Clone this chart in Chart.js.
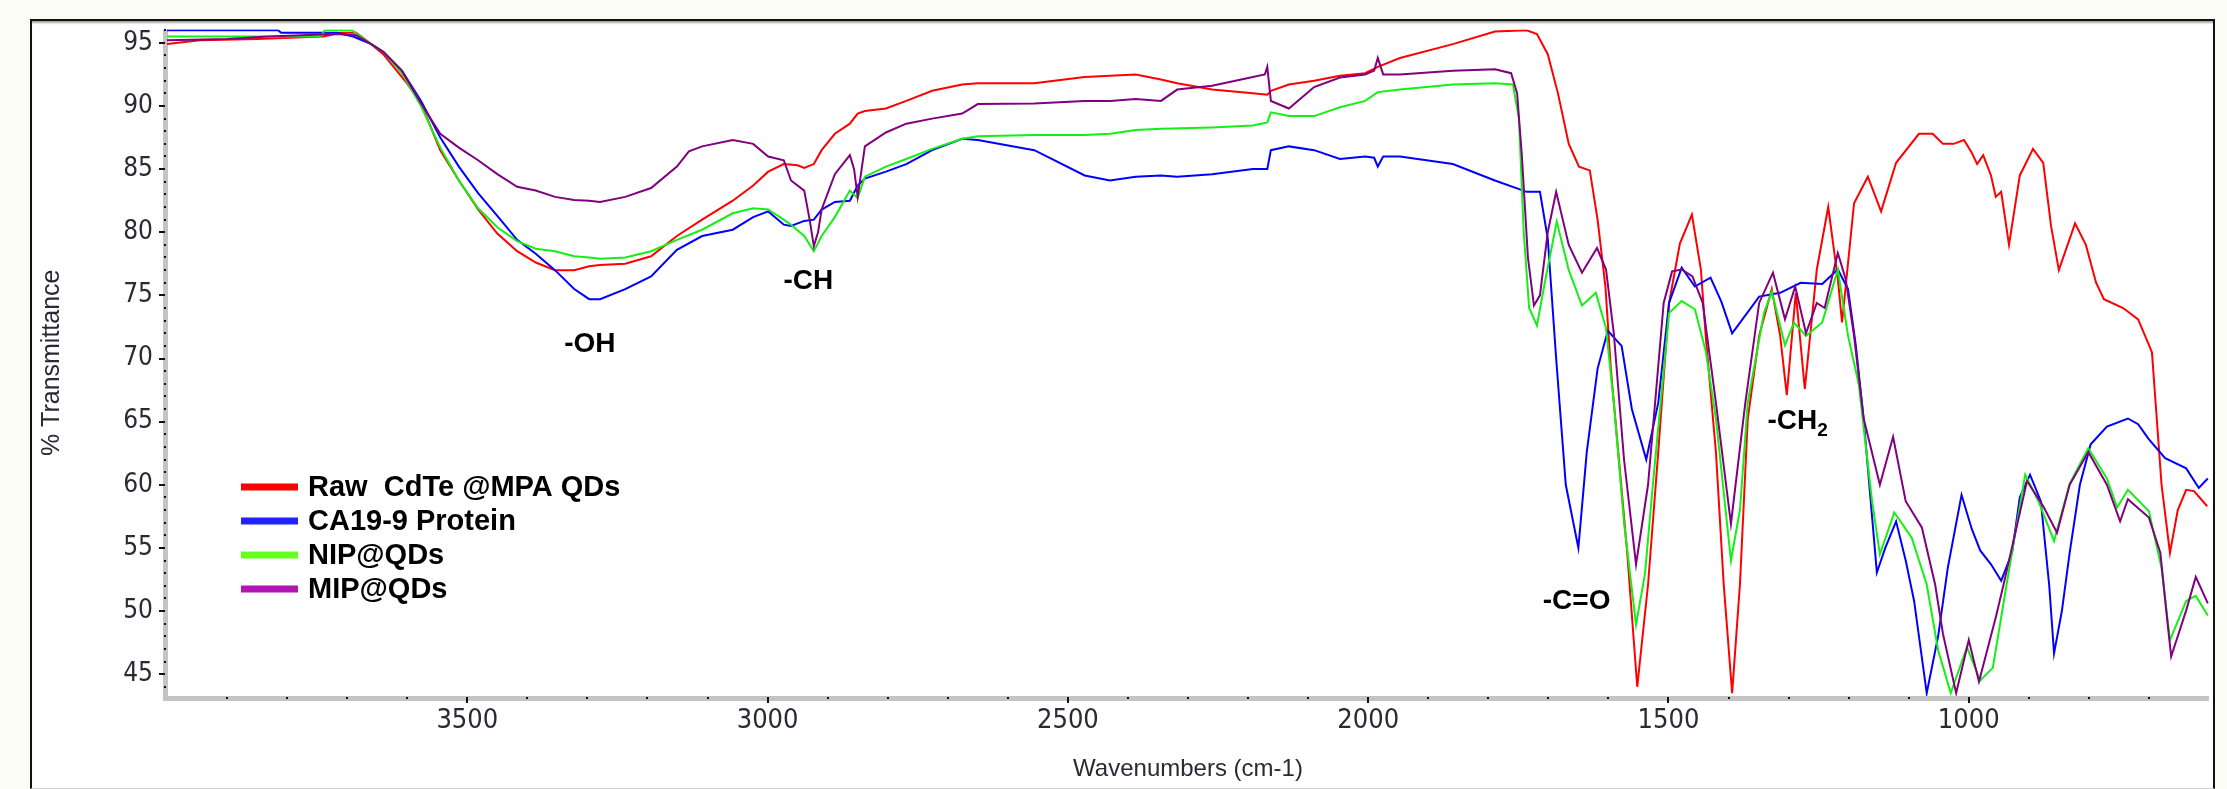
<!DOCTYPE html>
<html lang="en">
<head>
    <meta charset="UTF-8">
    <title>FTIR spectra</title>
    <script src="https://cdn.jsdelivr.net/npm/chart.js"></script>
    <style>
        body {
        margin: 0;
        background-color: #fcfcf7;
        width: 2227px;
        height: 789px;
        overflow: hidden;
        position: relative;
        }
        #frame {
        position: absolute;
        left: 30px;
        top: 19px;
        width: 2181px;
        height: 767px;
        background: #fff;
        border-left: 2px solid #111;
        border-top: 2px solid #111;
        border-right: 2px solid #111;
        border-bottom: 1px solid #d0d0d0;
        box-shadow: inset 0 3px 2px -1px rgba(0,0,0,0.35);
        }
        #ftir {
        position: absolute;
        left: 0;
        top: 0;
        }
    </style>
</head>
<body>
    <div id="frame"></div>
    <canvas id="ftir" width="2227" height="789"></canvas>

    <script>
        // wavenumber (cm-1) / %T
        const rawX = [4000,3945,3850,3740,3710,3685,3660,3640,3622,3602,3577,3545,3514,3482,3450,3417,3386,3354,3322,3297,3279,3237,3194,3151,3109,3058,3024,2999,2973,2950,2939,2923,2910,2888,2863,2850,2838,2803,2769,2726,2676,2650,2556,2472,2387,2345,2318,2260,2192,2168,2162,2132,2090,2047,2005,1984,1947,1859,1789,1736,1719,1701,1684,1666,1649,1631,1618,1605,1596,1569,1552,1534,1517,1499,1481,1461,1446,1438,1421,1408,1394,1381,1368,1349,1328,1314,1303,1288,1273,1253,1234,1218,1211,1191,1168,1146,1121,1083,1060,1043,1025,1008,995,986,976,963,955,946,933,915,893,876,863,850,823,805,788,775,743,718,695,679,665,652,638,625,603];
        const rawY = [94.9,95.2,95.3,95.5,95.8,95.8,94.9,94.1,93.05,91.9,90.2,86.5,84.1,81.8,79.9,78.5,77.6,77.0,77.0,77.3,77.4,77.5,78.1,79.7,81.0,82.5,83.7,84.8,85.4,85.3,85.1,85.4,86.5,87.8,88.6,89.4,89.6,89.8,90.4,91.2,91.7,91.8,91.8,92.3,92.5,92.1,91.8,91.3,91.0,90.9,91.2,91.7,92.0,92.4,92.6,93.1,93.8,94.9,95.9,96.0,95.7,94.1,91.0,87.0,85.2,84.9,81.0,75.7,69.2,54.8,44.0,52.1,62.6,74.4,79.1,81.4,77.05,71.8,62.6,52.1,43.5,52.1,65.2,71.8,75.5,71.8,67.1,75.2,67.6,77.05,82.0,76.3,72.85,82.3,84.4,81.65,85.5,87.8,87.8,87.0,87.0,87.3,86.3,85.4,86.1,84.5,82.8,83.2,79.0,84.5,86.6,85.5,80.5,77.0,80.7,79.0,76.0,74.7,74.0,73.1,70.5,60.0,54.6,58.0,59.6,59.5,58.3];

        const proteinX = [4000,3815,3810,3717,3690,3660,3640,3609,3577,3545,3514,3482,3450,3417,3386,3354,3322,3297,3279,3237,3194,3151,3109,3058,3024,2999,2973,2961,2939,2923,2910,2888,2863,2850,2838,2803,2769,2726,2676,2650,2556,2472,2430,2387,2345,2318,2260,2192,2168,2162,2132,2090,2047,2005,1990,1984,1975,1947,1859,1789,1736,1714,1701,1687,1671,1650,1636,1618,1601,1578,1561,1537,1517,1499,1478,1456,1430,1412,1394,1349,1314,1280,1244,1218,1201,1188,1175,1153,1139,1121,1105,1091,1070,1051,1035,1012,995,981,963,946,928,915,898,880,866,858,845,832,815,797,770,735,718,700,673,638,617,602];
        const proteinY = [96.0,96.0,95.8,95.8,95.5,94.9,94.3,92.8,90.4,87.5,85.2,83.1,81.3,79.4,78.3,77.0,75.5,74.7,74.7,75.5,76.5,78.6,79.7,80.2,81.2,81.65,80.6,80.5,80.9,81.0,81.8,82.4,82.5,83.7,84.25,84.8,85.4,86.5,87.4,87.3,86.5,84.5,84.1,84.4,84.5,84.4,84.6,85.0,85.0,86.5,86.8,86.5,85.8,86.0,85.9,85.2,86.0,86.0,85.4,84.1,83.2,83.2,79.5,70.0,60.0,55.0,62.6,69.2,72.2,71.0,66.0,62.0,66.5,74.4,77.2,75.7,76.4,74.5,72.0,74.9,75.2,76.0,75.9,77.05,75.5,71.0,65.2,53.05,55.0,57.1,54.0,50.8,43.5,48.0,53.4,59.2,56.5,54.8,53.7,52.4,54.6,59.0,60.8,58.7,52.0,46.65,50.0,54.6,60.0,63.2,64.6,65.25,64.8,63.6,62.1,61.3,59.75,60.5];

        const nipX = [4000,3745,3737,3692,3660,3640,3609,3577,3545,3514,3482,3450,3417,3386,3354,3322,3297,3279,3237,3194,3151,3109,3058,3024,2999,2973,2961,2939,2923,2910,2888,2863,2850,2838,2803,2769,2726,2676,2650,2556,2472,2430,2387,2345,2260,2192,2168,2162,2132,2090,2047,2005,1984,1947,1859,1789,1759,1749,1741,1732,1719,1706,1686,1666,1644,1621,1604,1591,1574,1554,1539,1526,1499,1478,1456,1438,1421,1396,1381,1368,1341,1328,1306,1291,1271,1244,1218,1201,1183,1161,1148,1124,1095,1070,1051,1030,1003,981,960,937,906,884,858,832,801,770,753,735,700,679,665,638,622,602];
        const nipY = [95.5,95.5,96.0,96.0,94.9,94.3,92.6,90.0,86.7,84.1,81.9,80.4,79.3,78.7,78.5,78.1,78.0,77.9,78.0,78.5,79.4,80.2,81.5,81.9,81.8,81.0,80.6,79.7,78.5,79.7,81.2,83.3,82.7,84.4,85.2,85.8,86.6,87.4,87.6,87.7,87.7,87.8,88.1,88.2,88.3,88.45,88.7,89.5,89.2,89.2,89.9,90.4,91.1,91.3,91.7,91.8,91.7,89.0,80.0,74.0,72.6,76.0,80.85,77.0,74.2,75.2,72.4,66.5,57.0,48.9,53.0,60.0,73.6,74.55,73.9,70.6,65.25,54.0,58.0,66.5,73.6,75.3,71.05,72.85,71.8,72.85,77.05,71.8,67.9,58.7,54.5,57.8,55.8,52.1,46.9,43.5,47.15,44.5,45.5,52.1,60.8,58.7,55.55,60.1,62.9,60.5,58.2,59.6,57.9,53.4,47.7,50.8,51.2,49.65];

        const mipX = [4000,3900,3832,3720,3685,3660,3640,3609,3577,3545,3514,3482,3450,3417,3386,3354,3322,3297,3279,3237,3194,3151,3131,3109,3058,3024,2999,2973,2961,2939,2930,2923,2916,2910,2888,2863,2856,2850,2838,2803,2769,2726,2676,2650,2556,2472,2430,2387,2345,2318,2260,2192,2172,2168,2162,2132,2090,2047,2005,1990,1984,1975,1947,1859,1789,1762,1752,1744,1734,1724,1714,1701,1687,1666,1644,1619,1604,1591,1574,1554,1534,1508,1494,1478,1460,1443,1421,1396,1372,1349,1326,1306,1289,1271,1253,1240,1218,1205,1191,1175,1148,1126,1105,1078,1056,1043,1021,1000,983,955,942,903,876,853,832,801,770,748,735,700,681,670,663,638,622,602];
        const mipY = [95.2,95.3,95.5,95.7,95.6,94.9,94.3,92.8,90.2,87.8,86.7,85.7,84.6,83.6,83.3,82.8,82.55,82.5,82.4,82.8,83.5,85.2,86.4,86.8,87.3,87.0,86.0,85.7,84.1,83.3,81.0,78.9,80.0,81.8,84.6,86.1,85.0,82.8,86.8,87.9,88.6,89.0,89.4,90.15,90.2,90.4,90.4,90.55,90.4,91.3,91.6,92.3,92.5,93.1,90.4,89.8,91.5,92.25,92.5,92.8,93.8,92.5,92.5,92.8,92.9,92.6,91.0,86.0,78.0,74.2,75.0,80.0,83.2,79.0,76.8,78.75,77.05,72.0,62.0,53.7,60.0,74.4,76.9,77.05,76.5,74.4,66.5,56.9,66.5,74.4,76.8,73.1,75.7,72.0,74.4,74.0,78.35,76.3,71.8,65.25,60.0,63.8,58.7,56.6,52.1,48.2,43.5,47.7,44.4,49.5,52.1,60.3,58.3,56.2,60.0,62.6,60.0,57.1,58.85,57.4,54.6,49.5,46.4,50.05,52.7,50.6];

        const seriesLabels = ['Raw  CdTe @MPA QDs', 'CA19-9 Protein', 'NIP@QDs', 'MIP@QDs'];
        const lineColors = ['#ff0000', '#0000ff', '#14f014', '#800080'];
        const legendColors = ['#ff0000', '#2222ff', '#66ff22', '#b414b4'];

        const xTickValues = [3500, 3000, 2500, 2000, 1500, 1000];
        const yTickValues = [45, 50, 55, 60, 65, 70, 75, 80, 85, 90, 95];

        // band labels: [text, subscript, wavenumber, %T]
        const bandLabels = [
            ['-OH', '', 3296, 71.1],
            ['-CH', '', 2932, 76.1],
            ['-C=O', '', 1653, 50.8],
            ['-CH', '2', 1285, 65.0]
        ];

        const pts = (xs, ys) => xs.map((x, i) => ({x: x, y: ys[i]}));
        const seriesData = [pts(rawX, rawY), pts(proteinX, proteinY), pts(nipX, nipY), pts(mipX, mipY)];

        const narrow = "'Liberation Sans Narrow', 'Arial Narrow', 'DejaVu Sans Condensed', sans-serif";

        // gray axis bars, major ticks, minor dots, band labels and the legend
        const decorations = {
        id: 'decorations',
        beforeDatasetsDraw(chart) {
            const {ctx, chartArea, scales: {x, y}} = chart;
            ctx.save();
            ctx.fillStyle = '#c4c4c4';
            ctx.fillRect(chartArea.left - 4, chartArea.top, 5, chartArea.bottom - chartArea.top + 5);
            ctx.fillRect(chartArea.left - 4, chartArea.bottom, chartArea.right - chartArea.left + 4, 5);

            ctx.fillStyle = '#111';
            for (let v = 44; v <= 96; v++) {
                const py = Math.round(y.getPixelForValue(v));
                if (v % 5 === 0) ctx.fillRect(chartArea.left - 8, py - 1, 6, 2);
                else ctx.fillRect(chartArea.left - 3, py - 1, 2, 2);
            }
            for (let v = 700; v <= 3900; v += 100) {
                const px = Math.round(x.getPixelForValue(v));
                if (v % 500 === 0) ctx.fillRect(px - 1, chartArea.bottom + 1, 2, 6);
                else ctx.fillRect(px - 1, chartArea.bottom + 1, 2, 2);
            }
            ctx.restore();
        },
        afterDatasetsDraw(chart) {
            const {ctx, scales: {x, y}} = chart;
            ctx.save();
            ctx.fillStyle = '#000';
            ctx.textBaseline = 'middle';
            bandLabels.forEach(([txt, sub, wn, t]) => {
                const cx = x.getPixelForValue(wn);
                const cy = y.getPixelForValue(t);
                ctx.font = "bold 28px 'Liberation Sans', Arial, sans-serif";
                const w1 = ctx.measureText(txt).width;
                ctx.font = "bold 19px 'Liberation Sans', Arial, sans-serif";
                const w2 = sub ? ctx.measureText(sub).width : 0;
                const x0 = cx - (w1 + w2) / 2;
                ctx.textAlign = 'left';
                ctx.font = "bold 28px 'Liberation Sans', Arial, sans-serif";
                ctx.fillText(txt, x0, cy);
                if (sub) {
                ctx.font = "bold 19px 'Liberation Sans', Arial, sans-serif";
                ctx.fillText(sub, x0 + w1, cy + 9);
                }
            });

            // legend
            const legendLeft = 241, legendTop = 487, rowGap = 34;
            seriesLabels.forEach((label, i) => {
                const ry = legendTop + i * rowGap;
                ctx.fillStyle = legendColors[i];
                ctx.fillRect(legendLeft, ry - 3.5, 57, 7);
                ctx.fillStyle = '#000';
                ctx.font = "bold 29px 'Liberation Sans', Arial, sans-serif";
                ctx.textAlign = 'left';
                ctx.fillText(label, legendLeft + 67, ry + 1);
            });
            ctx.restore();
        }
        };

        const ctx = document.getElementById('ftir').getContext('2d');
        const ftirChart = new Chart(ctx, {
        type: 'line',
        data: {
            datasets: seriesLabels.map((label, i) => ({
            label: label,
            data: seriesData[i],
            borderColor: lineColors[i],
            borderWidth: 2,
            pointRadius: 0,
            tension: 0,
            fill: false,
            order: 3 - i
            }))
        },
        options: {
            responsive: false,
            animation: false,
            devicePixelRatio: 1,
            layout: {
            padding: {left: 0, top: 25, right: 18, bottom: 0}
            },
            plugins: {
            legend: {display: false},
            tooltip: {enabled: false}
            },
            scales: {
            x: {
                type: 'linear',
                reverse: true,
                min: 600,
                max: 4000,
                grid: {display: false, drawTicks: false},
                border: {display: false},
                afterBuildTicks: (scale) => { scale.ticks = xTickValues.map(v => ({value: v})); },
                afterFit: (scale) => { scale.height = 93; },
                ticks: {
                padding: 9,
                color: '#2a2a36',
                font: {family: narrow, size: 27},
                maxRotation: 0,
                autoSkip: false,
                callback: (v) => String(v)
                },
                title: {
                display: true,
                text: 'Wavenumbers (cm-1)',
                color: '#2a2a36',
                font: {family: "'Liberation Sans', Arial, sans-serif", size: 24},
                padding: {top: 0, bottom: 5}
                }
            },
            y: {
                min: 43.27,
                max: 96.05,
                grid: {display: false, drawTicks: false},
                border: {display: false},
                afterBuildTicks: (scale) => { scale.ticks = yTickValues.map(v => ({value: v})); },
                afterFit: (scale) => { scale.width = 167; },
                ticks: {
                padding: 14,
                color: '#2a2a36',
                font: {family: narrow, size: 26},
                callback: (v) => String(v)
                },
                title: {
                display: true,
                text: '% Transmittance',
                color: '#2a2a36',
                font: {family: "'Liberation Sans', Arial, sans-serif", size: 25},
                padding: {top: 37, bottom: 0}
                }
            }
            }
        },
        plugins: [decorations]
        });
    </script>
</body>
</html>
